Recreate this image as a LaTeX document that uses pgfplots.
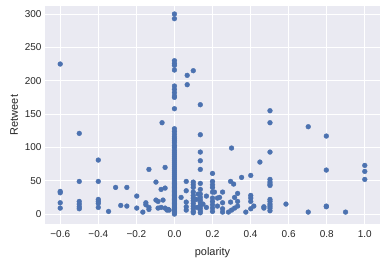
\documentclass[border=0pt]{standalone}
\usepackage{pgfplots}
\pgfplotsset{compat=1.18}
\usepackage{fontspec}
\setmainfont{Liberation Sans}
\definecolor{bgc}{HTML}{EAEAF2}
\definecolor{ptc}{HTML}{4C72B0}
\definecolor{txc}{HTML}{262626}
\begin{document}
\begin{tikzpicture}
\begin{axis}[
  scale only axis, width=335bp, height=218bp,
  xmin=-0.68, xmax=1.08, ymin=-14.85, ymax=312,
  axis background/.style={fill=bgc},
  axis line style={draw=none},
  grid=major, major grid style={white, line width=0.9bp},
  tick style={draw=none},
  xtick={-0.6,-0.4,-0.2,0,0.2,0.4,0.6,0.8,1.0},
  xticklabels={−0.6,−0.4,−0.2,0.0,0.2,0.4,0.6,0.8,1.0},
  ytick={0,50,100,150,200,250,300},
  /pgf/number format/assume math mode=true,
  ticklabel style={font=\fontsize{10}{12}\selectfont, text=txc},
  xticklabel style={yshift=-3bp},
  label style={font=\fontsize{11}{13}\selectfont, text=txc},
  xlabel style={yshift=-3bp},
  xlabel={polarity}, ylabel={Retweet},
]
\addplot[only marks, mark=*, mark size=2.4bp, mark options={fill=ptc, draw=ptc}] table {
x y
-0.6 225
-0.6 34
-0.6 32
-0.6 17
-0.6 9
-0.5 121
-0.5 49
-0.5 19
-0.5 15
-0.5 11
-0.5 8
-0.4 81
-0.4 49
-0.4 22
-0.4 19
-0.4 16
-0.4 10
-0.346 4
-0.309 40
-0.282 13
-0.25 40
-0.25 12
-0.198 27
-0.198 9
-0.166 3
-0.15 17
-0.15 14
-0.134 67
-0.134 7
-0.134 10
-0.097 48
-0.097 21
-0.086 19
-0.086 9
-0.07 37
-0.07 10
-0.065 137
-0.06 21
-0.049 70
-0.049 39
-0.049 9
-0.039 6
-0.033 7
-0.028 6
0 300
0 293
0 230
0 226
0 223
0 216
0 192
0 187
0 182
0 177
0 175
0 158
0 128
0 124
0 120
0 116
0 113
0 110
0 107
0 103
0 100
0 96
0 93
0 90
0 87
0 84
0 81
0 78
0 75
0 72
0 69
0 66
0 63
0 60
0 57
0 54
0 51
0 48
0 46
0 44
0 42
0 40
0 38
0 36
0 34
0 32
0 30
0 28
0 26
0 24
0 22
0 20
0 18
0 16
0 14
0 12
0 10
0 8
0 6
0 4
0 2
0 0
0.035 25
0.062 49
0.062 35
0.062 18
0.062 11
0.062 6
0.067 208
0.067 194
0.099 215
0.099 48
0.099 44
0.099 40
0.099 33
0.099 28
0.099 24
0.099 20
0.099 16
0.099 12
0.099 8
0.099 4
0.099 2
0.115 22
0.12 10
0.125 30
0.136 164
0.136 119
0.136 93
0.136 80
0.136 67
0.136 46
0.136 37
0.136 30
0.136 25
0.136 21
0.136 17
0.136 13
0.136 9
0.136 5
0.136 2
0.15 15
0.168 27
0.168 10
0.2 61
0.2 49
0.2 44
0.2 40
0.2 33
0.2 24
0.2 19
0.2 14
0.2 9
0.2 4
0.21 33
0.226 24
0.226 12
0.237 25
0.253 33
0.253 17
0.253 8
0.253 3
0.284 3
0.295 49
0.295 18
0.3 99
0.3 6
0.311 45
0.316 25
0.316 9
0.332 31
0.332 19
0.332 12
0.353 55
0.375 3
0.401 58
0.401 28
0.401 24
0.401 19
0.401 8
0.417 12
0.449 78
0.47 9
0.47 11
0.502 155
0.502 137
0.502 93
0.502 52
0.502 48
0.502 45
0.502 43
0.502 22
0.502 19
0.502 15
0.502 12
0.502 9
0.502 5
0.586 15
0.703 131
0.703 3
0.798 117
0.798 66
0.798 12
0.798 11
0.899 3
1.0 73
1.0 64
1.0 52
};
\end{axis}
\path (-45bp,-37bp) rectangle (341bp,224bp);
\end{tikzpicture}
\end{document}
